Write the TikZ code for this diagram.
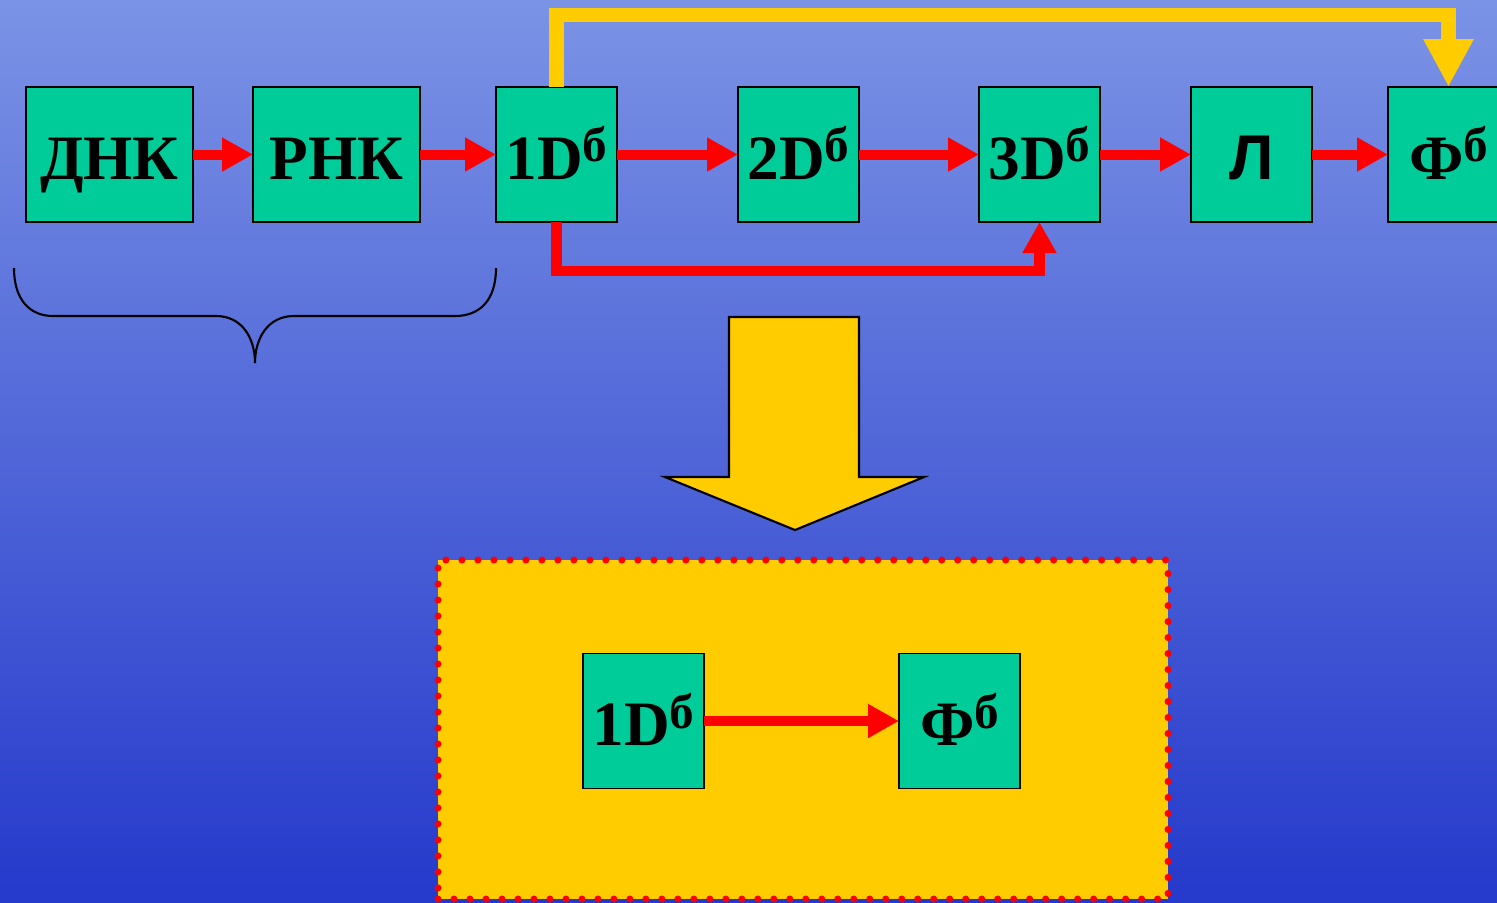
\documentclass[tikz,border=0pt]{standalone}
\usepackage{fontspec}
\setmainfont{Liberation Serif}
\newfontfamily\sansbold{Liberation Sans}
\usepackage{tikz}
\usetikzlibrary{arrows.meta,positioning}
\definecolor{boxgreen}{HTML}{00CC99}
\definecolor{gold}{HTML}{FFCC00}
\definecolor{bgtop}{HTML}{7B93E5}
\definecolor{bgbottom}{HTML}{2539CB}
\newcommand{\bsup}{\raisebox{5pt}{\fontsize{14}{15}\selectfont б}}

\begin{document}
\begin{tikzpicture}[x=0.1mm, y=-0.1mm,
	box/.style={rectangle, draw=black, line width=0.5pt, fill=boxgreen, minimum width=12.1mm, minimum height=13.5mm, inner sep=0pt, outer sep=0pt, text height=14pt, text depth=0pt, font=\fontsize{18}{20}\selectfont\bfseries},
	widebox/.style={box, minimum width=16.7mm},
	panel/.style={rectangle, fill=gold, draw=red, line width=2pt, line cap=round, dash pattern=on 0pt off 4.55pt, minimum width=73mm, minimum height=33.9mm},
	flow/.style={draw=red, line width=2.85pt, -{Triangle[length=3.1mm, width=3.2mm]}},
	jump/.style={draw=gold, line width=4pt, -{Triangle[length=4.8mm, width=4.7mm]}}]
	\useasboundingbox (0,0) rectangle (1497,902);
	\shade[top color=bgtop, bottom color=bgbottom] (0,0) rectangle (1497,902);
	
	\node[widebox] (dna) at (109.5,154.5) {ДНК};
	\node[widebox, right=6mm of dna] (rna) {РНК};
	\node[box, right=7.6mm of rna] (d1) {1D\bsup};
	\node[box, right=12.1mm of d1] (d2) {2D\bsup};
	\node[box, right=12mm of d2] (d3) {3D\bsup};
	\node[box, right=9.1mm of d3, font=\fontsize{18}{20}\selectfont\sansbold\bfseries] (l) {Л};
	\node[box, right=7.6mm of l] (phi) {Ф\bsup};
	
	\draw[flow] (dna) -- (rna);
	\draw[flow] (rna) -- (d1);
	\draw[flow] (d1) -- (d2);
	\draw[flow] (d2) -- (d3);
	\draw[flow] (d3) -- (l);
	\draw[flow] (l) -- (phi);
	\draw[flow] (d1.south) -- ++(0,49) -| (d3.south);
	\draw[jump] (d1.north) -- ++(0,-72) -| (phi.north);
	
	\draw[line width=0.6pt] (14,268) .. controls (14,300) and (30,316) .. (53,316) -- (216,316) .. controls (242,316) and (255,338) .. (255,363) .. controls (255,338) and (268,316) .. (294,316) -- (455,316) .. controls (480,316) and (496,300) .. (496,268);
	
	\draw[fill=gold, line width=0.6pt] (729,317) -- (859,317) -- (859,477) -- (924,477) -- (795,530) -- (665,477) -- (729,477) -- cycle;
	
	\node[panel] (result) at (803,729.5) {};
	\node[box] (d1b) at (643.5,721) {1D\bsup};
	\node[box, right=19.5mm of d1b] (phib) {Ф\bsup};
	\draw[flow] (d1b) -- (phib);
\end{tikzpicture}
\end{document}
